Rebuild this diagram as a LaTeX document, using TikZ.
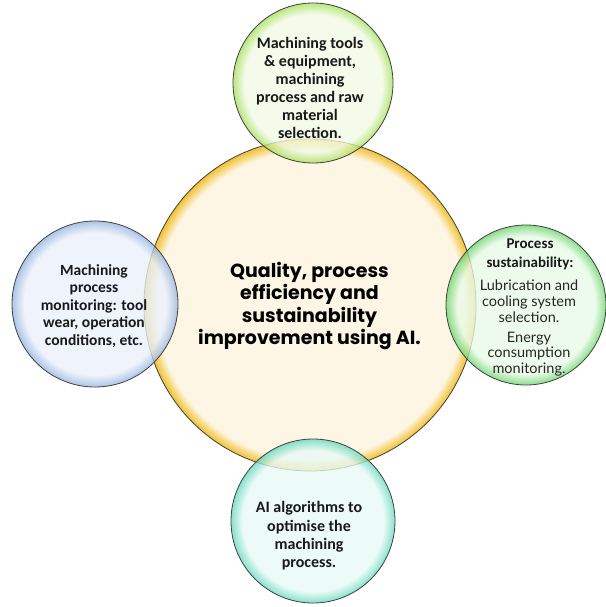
\documentclass[tikz,border=0pt]{standalone}
\usepackage{fontspec}
\setmainfont{Carlito}
\newfontfamily\headfont{Poppins}
\newfontfamily\bodyfont{Lato}

% centre and rim colours of the bubbles
\definecolor{yin}{HTML}{FDF6E4}\definecolor{yout}{HTML}{F2C030}
\definecolor{gin}{HTML}{F2FAE6}\definecolor{gout}{HTML}{A6E05A}
\definecolor{bin}{HTML}{EAF0FA}\definecolor{bout}{HTML}{94B4E0}
\definecolor{lin}{HTML}{E8FAE8}\definecolor{lout}{HTML}{6CD46C}
\definecolor{cin}{HTML}{E8FAF6}\definecolor{cout}{HTML}{66D8C0}

% flat centre, glow only close to the edge (edge of the path = 25bp)
\pgfdeclareradialshading{yrim}{\pgfpoint{0bp}{0bp}}{color(0bp)=(yin); color(23.2bp)=(yin); color(25bp)=(yout); color(50bp)=(yout)}
\pgfdeclareradialshading{grim}{\pgfpoint{0bp}{0bp}}{color(0bp)=(gin); color(21.5bp)=(gin); color(25bp)=(gout); color(50bp)=(gout)}
\pgfdeclareradialshading{brim}{\pgfpoint{0bp}{0bp}}{color(0bp)=(bin); color(21.5bp)=(bin); color(25bp)=(bout); color(50bp)=(bout)}
\pgfdeclareradialshading{lrim}{\pgfpoint{0bp}{0bp}}{color(0bp)=(lin); color(21.5bp)=(lin); color(25bp)=(lout); color(50bp)=(lout)}
\pgfdeclareradialshading{crim}{\pgfpoint{0bp}{0bp}}{color(0bp)=(cin); color(21.5bp)=(cin); color(25bp)=(cout); color(50bp)=(cout)}

\tikzset{
  bubble/.style={circle, draw=black!75, line width=0.8pt, inner sep=0pt},
  satellite/.style={bubble, fill opacity=0.78},
  label/.style={align=center, text=black!90, font=\bfseries\fontsize{15.5}{17.6}\selectfont}
}

\begin{document}
\begin{tikzpicture}[x=1pt, y=-1pt]
\useasboundingbox (0,0) rectangle (605,607);

% bubbles
\node[bubble, minimum size=332pt, shading=yrim] (hub) at (310,305) {};
\node[satellite, minimum size=160pt, shading=grim] (tools) at (313,83) {};
\node[satellite, minimum size=166pt, shading=brim] (monitor) at (95,304) {};
\node[satellite, minimum size=160pt, shading=lrim] (sustain) at (526,305) {};
\node[satellite, minimum size=164pt, shading=crim] (algo) at (313,521) {};

% texts
\node[align=center, text=black, font=\headfont\bfseries\fontsize{19}{22.2}\selectfont] (hubtext) at (309.5,306)
  {Quality, process\\efficiency and\\sustainability\\improvement using AI.};
\node[label, font=\bfseries\fontsize{16}{18}\selectfont] (toolstext) at (310,88)
  {Machining tools\\\& equipment,\\machining\\process and raw\\material\\selection.};
\node[label] (monitortext) at (94,306)
  {Machining\\process\\monitoring: tool\\wear, operation\\conditions, etc.};
\node[label, font=\bfseries\fontsize{15}{19}\selectfont] (sustainhead) at (530,254)
  {Process\\sustainability:};
\node[align=center, text=black!85, font=\bodyfont\fontsize{14.5}{16}\selectfont] (sustainbody1) at (529,301)
  {Lubrication and\\cooling system\\selection.};
\node[align=center, text=black!85, font=\bodyfont\fontsize{14.5}{15.5}\selectfont] (sustainbody2) at (529,354)
  {Energy\\consumption\\monitoring.};
\node[label, font=\bfseries\fontsize{16}{18.3}\selectfont] (algotext) at (309,536)
  {AI algorithms to\\optimise the\\machining\\process.};
\end{tikzpicture}
\end{document}
